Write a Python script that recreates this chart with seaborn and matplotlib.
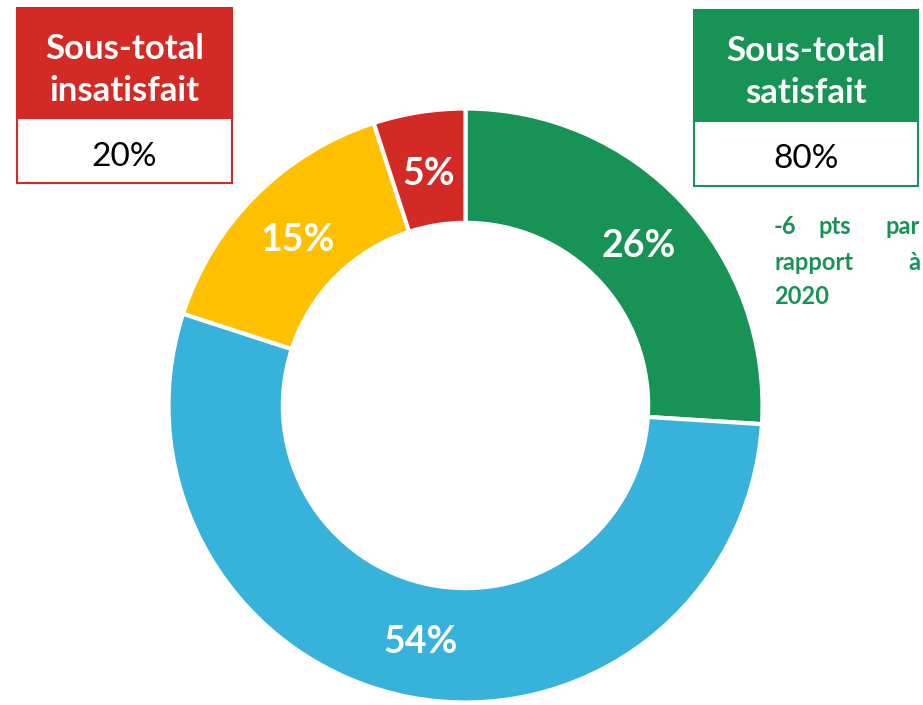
import matplotlib
matplotlib.use("Agg")
import matplotlib.pyplot as plt
from matplotlib.patches import Rectangle
import numpy as np
import seaborn as sns

# ---- data ----
categories = ["Très satisfait", "Plutôt satisfait", "Plutôt pas satisfait", "Pas du tout satisfait"]
values = [26, 54, 15, 5]
labels = ["26%", "54%", "15%", "5%"]
colors = ["#179455", "#36B2DB", "#FFC000", "#D42A26"]
subtotal_bad_title = ["Sous-total", "insatisfait"]
subtotal_bad_value = "20%"
subtotal_good_title = ["Sous-total", "satisfait"]
subtotal_good_value = "80%"
note_lines = [["-6", "pts", "par"], ["rapport", "à"], ["2020"]]

sns.set_theme(style="white")
plt.rcParams['font.family'] = ['Lato', 'DejaVu Sans']

W, H = 923, 705
fig = plt.figure(figsize=(W / 100, H / 100), dpi=100)
fig.patch.set_facecolor("white")

cx, cy, R = 465.5, 405.5, 297
ax = fig.add_axes([(cx - R) / W, (H - cy - R) / H, 2 * R / W, 2 * R / H])
wedges, texts = ax.pie(values, colors=colors, startangle=90, counterclock=False,
                       radius=1, wedgeprops=dict(width=0.385, edgecolor="white", linewidth=3))
ax.set_xlim(-1.0, 1.0)
ax.set_ylim(-1.0, 1.0)
ax.set_aspect("equal")
ax.axis("off")

cum = 0
for v, lab in zip(values, labels):
    mid = 90.0 - (cum + v / 2) / sum(values) * 360
    cum += v
    r = 0.80
    ax.text(r * np.cos(np.radians(mid)), r * np.sin(np.radians(mid)), lab,
            ha="center", va="center_baseline", color="white", fontsize=27, fontweight="bold")

# overlay axes in pixel coords
ov = fig.add_axes([0, 0, 1, 1])
ov.set_xlim(0, W)
ov.set_ylim(H, 0)
ov.axis("off")
ov.patch.set_alpha(0)

def box(x0, x1, y0, ymid, y1, col, title, value):
    ov.add_patch(Rectangle((x0, y0), x1 - x0, ymid - y0, facecolor=col, edgecolor=col, lw=1.5))
    ov.add_patch(Rectangle((x0, ymid), x1 - x0, y1 - ymid, facecolor="white", edgecolor=col, lw=1.5))
    xc = (x0 + x1) / 2
    ov.text(xc, y0 + 38, title[0], ha="center", va="center_baseline", color="white",
            fontsize=25, fontweight="bold")
    ov.text(xc, y0 + 80, title[1], ha="center", va="center_baseline", color="white",
            fontsize=25, fontweight="bold")
    ov.text(xc, (ymid + y1) / 2 + 3, value, ha="center", va="center_baseline", color="black", fontsize=24)

box(17, 232, 8, 118, 183, colors[3], subtotal_bad_title, subtotal_bad_value)
box(694, 918, 10, 121, 186, colors[0], subtotal_good_title, subtotal_good_value)

# justified note
left, right = 774, 920
ys = [225, 260, 294]
fs = 17
for words, y in zip(note_lines, ys):
    kw = dict(va="center_baseline", color=colors[0], fontsize=fs, fontweight="bold")
    ov.text(left, y, words[0], ha="left", **kw)
    if len(words) == 2:
        ov.text(right, y, words[1], ha="right", **kw)
    elif len(words) == 3:
        ov.text(835, y, words[1], ha="center", **kw)
        ov.text(right, y, words[2], ha="right", **kw)

fig.savefig("out.png", dpi=100, facecolor="white")
